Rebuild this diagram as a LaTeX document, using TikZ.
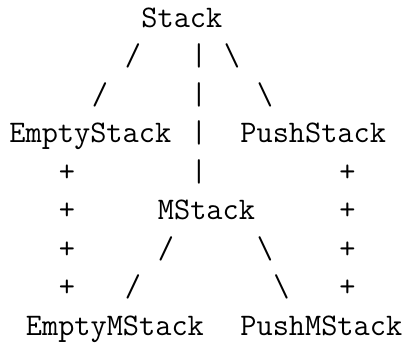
\documentclass[tikz,border=0pt]{standalone}
\usepackage{tikz}
\tikzset{
	tt/.style={anchor=base west,inner sep=0pt,font=\fontsize{15.71}{19}\ttfamily\selectfont}
}
\begin{document}
\begin{tikzpicture}[x=8.25pt,y=-19.25pt]
		\useasboundingbox(-0.5455,-0.7013)rectangle(24,8.2078);
		\node[tt](stack)at(8,0){Stack};
		\node[tt](l1)at(7,1){/};
		\node[tt](r1)at(13,1){\textbackslash};
		\node[tt](l2)at(5,2){/};
		\node[tt](r2)at(15,2){\textbackslash};
		\foreach \r in {1,...,4}
			\node[tt](bar\r)at(11,\r){\textbar};
		\node[tt](empty)at(0,3){EmptyStack};
		\node[tt](push)at(14,3){PushStack};
		\foreach \r in {4,...,7}{
			\node[tt](pl\r)at(3,\r){+};
			\node[tt](pr\r)at(20,\r){+};
		}
		\node[tt](mstack)at(9,5){MStack};
		\node[tt](l6)at(9,6){/};
		\node[tt](r6)at(15,6){\textbackslash};
		\node[tt](l7)at(7,7){/};
		\node[tt](r7)at(16,7){\textbackslash};
		\node[tt](emptym)at(1,8){EmptyMStack};
		\node[tt](pushm)at(14,8){PushMStack};
	\end{tikzpicture}
\end{document}
